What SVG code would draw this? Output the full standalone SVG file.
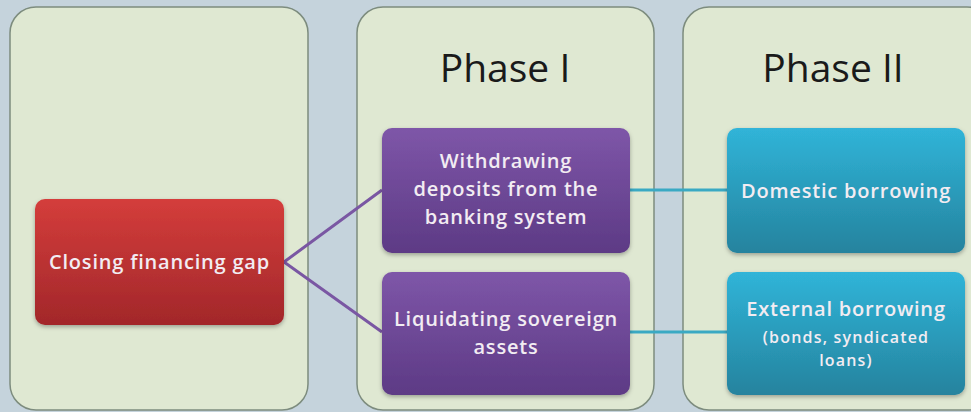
<svg xmlns="http://www.w3.org/2000/svg" width="971" height="412" viewBox="0 0 971 412">
<defs>
<linearGradient id="gRed" x1="0" y1="0" x2="0" y2="1"><stop offset="0" stop-color="#d43d3b"/><stop offset="1" stop-color="#a2272a"/></linearGradient>
<linearGradient id="gPur" x1="0" y1="0" x2="0" y2="1"><stop offset="0" stop-color="#7e56a8"/><stop offset="1" stop-color="#5d3a85"/></linearGradient>
<linearGradient id="gBlu" x1="0" y1="0" x2="0" y2="1"><stop offset="0" stop-color="#30b4d8"/><stop offset="1" stop-color="#25839e"/></linearGradient>
<filter id="sh" x="-10%" y="-10%" width="120%" height="130%"><feDropShadow dx="0" dy="2" stdDeviation="2" flood-color="#000" flood-opacity="0.3"/></filter>
</defs>
<style>
.panel{fill:#dfe8d2;stroke:#7d8c7e;stroke-width:1.5}
.t{font-family:"Open Sans","Liberation Sans",sans-serif;fill:#f2ecf2;text-anchor:middle;font-weight:600;font-size:20px;letter-spacing:0.8px}
.s{font-size:16px;letter-spacing:1.2px}
.h{font-family:"Open Sans","Liberation Sans",sans-serif;fill:#1a1a1a;text-anchor:middle;font-size:39px}
.cp{stroke:#7a57a3;stroke-width:3;fill:none}
.cb{stroke:#3aa9c3;stroke-width:3;fill:none}
</style>
<rect width="971" height="412" fill="#c5d3dc"/>
<g id="panel0"><rect class="panel" x="10" y="7" width="298" height="403" rx="26"/></g>
<g id="panel1"><rect class="panel" x="357" y="7" width="297" height="403" rx="26"/><text class="h" x="505" y="82">Phase I</text></g>
<g id="panel2"><rect class="panel" x="683" y="7" width="310" height="403" rx="26"/><text class="h" x="833" y="82">Phase II</text></g>
<g id="connectors">
<polyline class="cp" points="382,190 284,262 382,332"/>
<line class="cb" x1="630" y1="190" x2="727" y2="190"/>
<line class="cb" x1="630" y1="332" x2="727" y2="332"/>
</g>
<g id="closing"><rect x="35" y="199" width="249" height="126" rx="10" fill="url(#gRed)" filter="url(#sh)"/><text class="t" x="159.5" y="269">Closing financing gap</text></g>
<g id="withdrawing"><rect x="382" y="128" width="248" height="125" rx="10" fill="url(#gPur)" filter="url(#sh)"/><text class="t"><tspan x="506" y="168">Withdrawing</tspan><tspan x="506" y="196">deposits from the</tspan><tspan x="506" y="224">banking system</tspan></text></g>
<g id="liquidating"><rect x="382" y="272" width="248" height="123" rx="10" fill="url(#gPur)" filter="url(#sh)"/><text class="t"><tspan x="506" y="326">Liquidating sovereign</tspan><tspan x="506" y="354">assets</tspan></text></g>
<g id="domestic"><rect x="727" y="128" width="238" height="125" rx="10" fill="url(#gBlu)" filter="url(#sh)"/><text class="t" x="846" y="198">Domestic borrowing</text></g>
<g id="external"><rect x="727" y="272" width="238" height="123" rx="10" fill="url(#gBlu)" filter="url(#sh)"/><text class="t"><tspan x="846" y="316">External borrowing</tspan><tspan class="s" x="846" y="343">(bonds, syndicated</tspan><tspan class="s" x="846" y="366">loans)</tspan></text></g>
</svg>
